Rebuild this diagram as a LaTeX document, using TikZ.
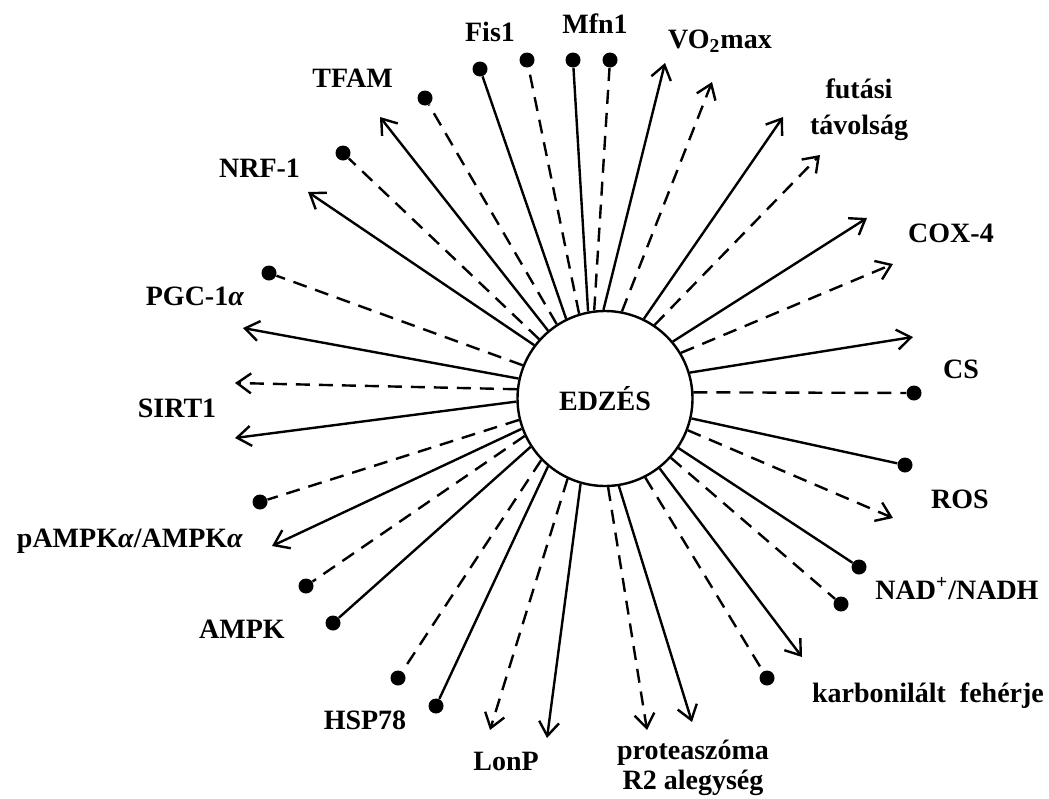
\documentclass[tikz,border=0pt]{standalone}
\usepackage{fontspec}
\setmainfont{Liberation Serif}
\usetikzlibrary{arrows.meta}
\tikzset{
  lbl/.style={font=\bfseries\fontsize{14}{17}\selectfont, inner sep=0pt, anchor=base},
  solidedge/.style={line width=1.2pt},
  dashededge/.style={line width=1.2pt, dash pattern=on 7pt off 4.5pt},
  dot/.style={circle, fill=black, inner sep=0pt, minimum size=7.5pt},
}

\begin{document}
\begin{tikzpicture}[x=0.5pt, y=-0.5pt, >={Straight Barb[length=7pt,width=10pt]}]
    \useasboundingbox (0,0) rectangle (1049,798);

    % Centre
    \node[draw, circle, line width=1.2pt, minimum size=87.5pt, inner sep=0pt,
          font=\bfseries\fontsize{14}{17}\selectfont] (edz) at (605,398.5) {EDZÉS};

    % Free ends: dots
    \node[dot] (d1) at (480,69) {};
    \node[dot] (d2) at (527,60) {};
    \node[dot] (d3) at (573,60) {};
    \node[dot] (d4) at (610,60) {};
    \node[dot] (d12) at (914,393) {};
    \node[dot] (d13) at (905,465) {};
    \node[dot] (d15) at (859,567) {};
    \node[dot] (d16) at (841,604) {};
    \node[dot] (d18) at (767,678) {};
    \node[dot] (d23) at (436,706) {};
    \node[dot] (d24) at (398,678) {};
    \node[dot] (d25) at (333,623) {};
    \node[dot] (d26) at (306,586) {};
    \node[dot] (d28) at (260,502) {};
    \node[dot] (d32) at (269,273) {};
    \node[dot] (d34) at (343,153) {};
    \node[dot] (d36) at (425,98) {};

    % Free ends: arrow tips
    \coordinate (a5) at (665,63);
    \coordinate (a6) at (712,82);
    \coordinate (a7) at (783,117);
    \coordinate (a8) at (820,155);
    \coordinate (a9) at (867,218);
    \coordinate (a10) at (893,264);
    \coordinate (a11) at (913,337);
    \coordinate (a14) at (893,518);
    \coordinate (a17) at (802,657);
    \coordinate (a19) at (692,722);
    \coordinate (a20) at (647,730);
    \coordinate (a21) at (547,738);
    \coordinate (a22) at (490,730);
    \coordinate (a27) at (272,546);
    \coordinate (a29) at (235,438);
    \coordinate (a30) at (235,383);
    \coordinate (a31) at (243,328);
    \coordinate (a33) at (308,192);
    \coordinate (a35) at (380,117);

    % Spokes, top
    \draw[solidedge] (edz.116) -- (d1);
    \draw[dashededge] (edz.107.5) -- (d2);
    \draw[solidedge] (edz.101.5) -- (d3);
    \draw[dashededge] (edz.97) -- (d4);
    \draw[solidedge, ->] (edz.91) -- (a5);
    \draw[dashededge, ->] (edz.79) -- (a6);
    \draw[solidedge, ->] (edz.64) -- (a7);
    \draw[dashededge, ->] (edz.56) -- (a8);
    \draw[solidedge, ->] (edz.40.5) -- (a9);
    \draw[dashededge, ->] (edz.31) -- (a10);

    % Spokes, right
    \draw[solidedge, ->] (edz.17) -- (a11);
    \draw[dashededge] (edz.4) -- (d12);
    \draw[solidedge] (edz.-13) -- (d13);
    \draw[dashededge, ->] (edz.-21) -- (a14);
    \draw[solidedge] (edz.-34) -- (d15);
    \draw[dashededge] (edz.-42) -- (d16);

    % Spokes, bottom
    \draw[solidedge, ->] (edz.-52.5) -- (a17);
    \draw[dashededge] (edz.-63) -- (d18);
    \draw[solidedge, ->] (edz.-81) -- (a19);
    \draw[dashededge, ->] (edz.-88) -- (a20);
    \draw[solidedge, ->] (edz.-106) -- (a21);
    \draw[dashededge, ->] (edz.-115) -- (a22);
    \draw[solidedge] (edz.-130.5) -- (d23);
    \draw[dashededge] (edz.-136.5) -- (d24);

    % Spokes, left
    \draw[solidedge] (edz.-147.3) -- (d25);
    \draw[dashededge] (edz.-155) -- (d26);
    \draw[solidedge, ->] (edz.-160.3) -- (a27);
    \draw[dashededge] (edz.-166.6) -- (d28);
    \draw[solidedge, ->] (edz.-178) -- (a29);
    \draw[dashededge, ->] (edz.174.8) -- (a30);
    \draw[solidedge, ->] (edz.167) -- (a31);
    \draw[dashededge] (edz.158.5) -- (d32);
    \draw[solidedge, ->] (edz.143) -- (a33);
    \draw[dashededge] (edz.138) -- (d34);
    \draw[solidedge, ->] (edz.130.5) -- (a35);
    \draw[dashededge] (edz.123) -- (d36);

    % Labels
    \node[lbl] (fis) at (490,41) {Fis1};
    \node[lbl] (mfn) at (595,33) {Mfn1};
    \node[lbl] (vo) at (720,48) {VO\textsubscript{2}max};
    \node[lbl, align=center, anchor=center] (fut) at (859,110) {futási\\[1pt]távolság};
    \node[lbl] (cox) at (951,242) {COX-4};
    \node[lbl] (cs) at (961,378) {CS};
    \node[lbl] (ros) at (960,508) {ROS};
    \node[lbl] (nad) at (957,599) {NAD\textsuperscript{+}/NADH};
    \node[lbl] (karb) at (928,702) {karbonilált\ \ fehérje};
    \node[lbl, align=center, anchor=center] (prot) at (693,768) {proteaszóma\\[-2pt]R2 alegység};
    \node[lbl] (lonp) at (506,770) {LonP};
    \node[lbl] (hsp) at (365,729) {HSP78};
    \node[lbl] (ampk) at (242,638) {AMPK};
    \node[lbl] (pampk) at (130,547) {pAMPK\textit{α}/AMPK\textit{α}};
    \node[lbl] (sirt) at (177,417) {SIRT1};
    \node[lbl] (pgc) at (195,305) {PGC-1\textit{α}};
    \node[lbl] (nrf) at (259.5,177) {NRF-1};
    \node[lbl] (tfam) at (352.5,87) {TFAM};
\end{tikzpicture}
\end{document}
